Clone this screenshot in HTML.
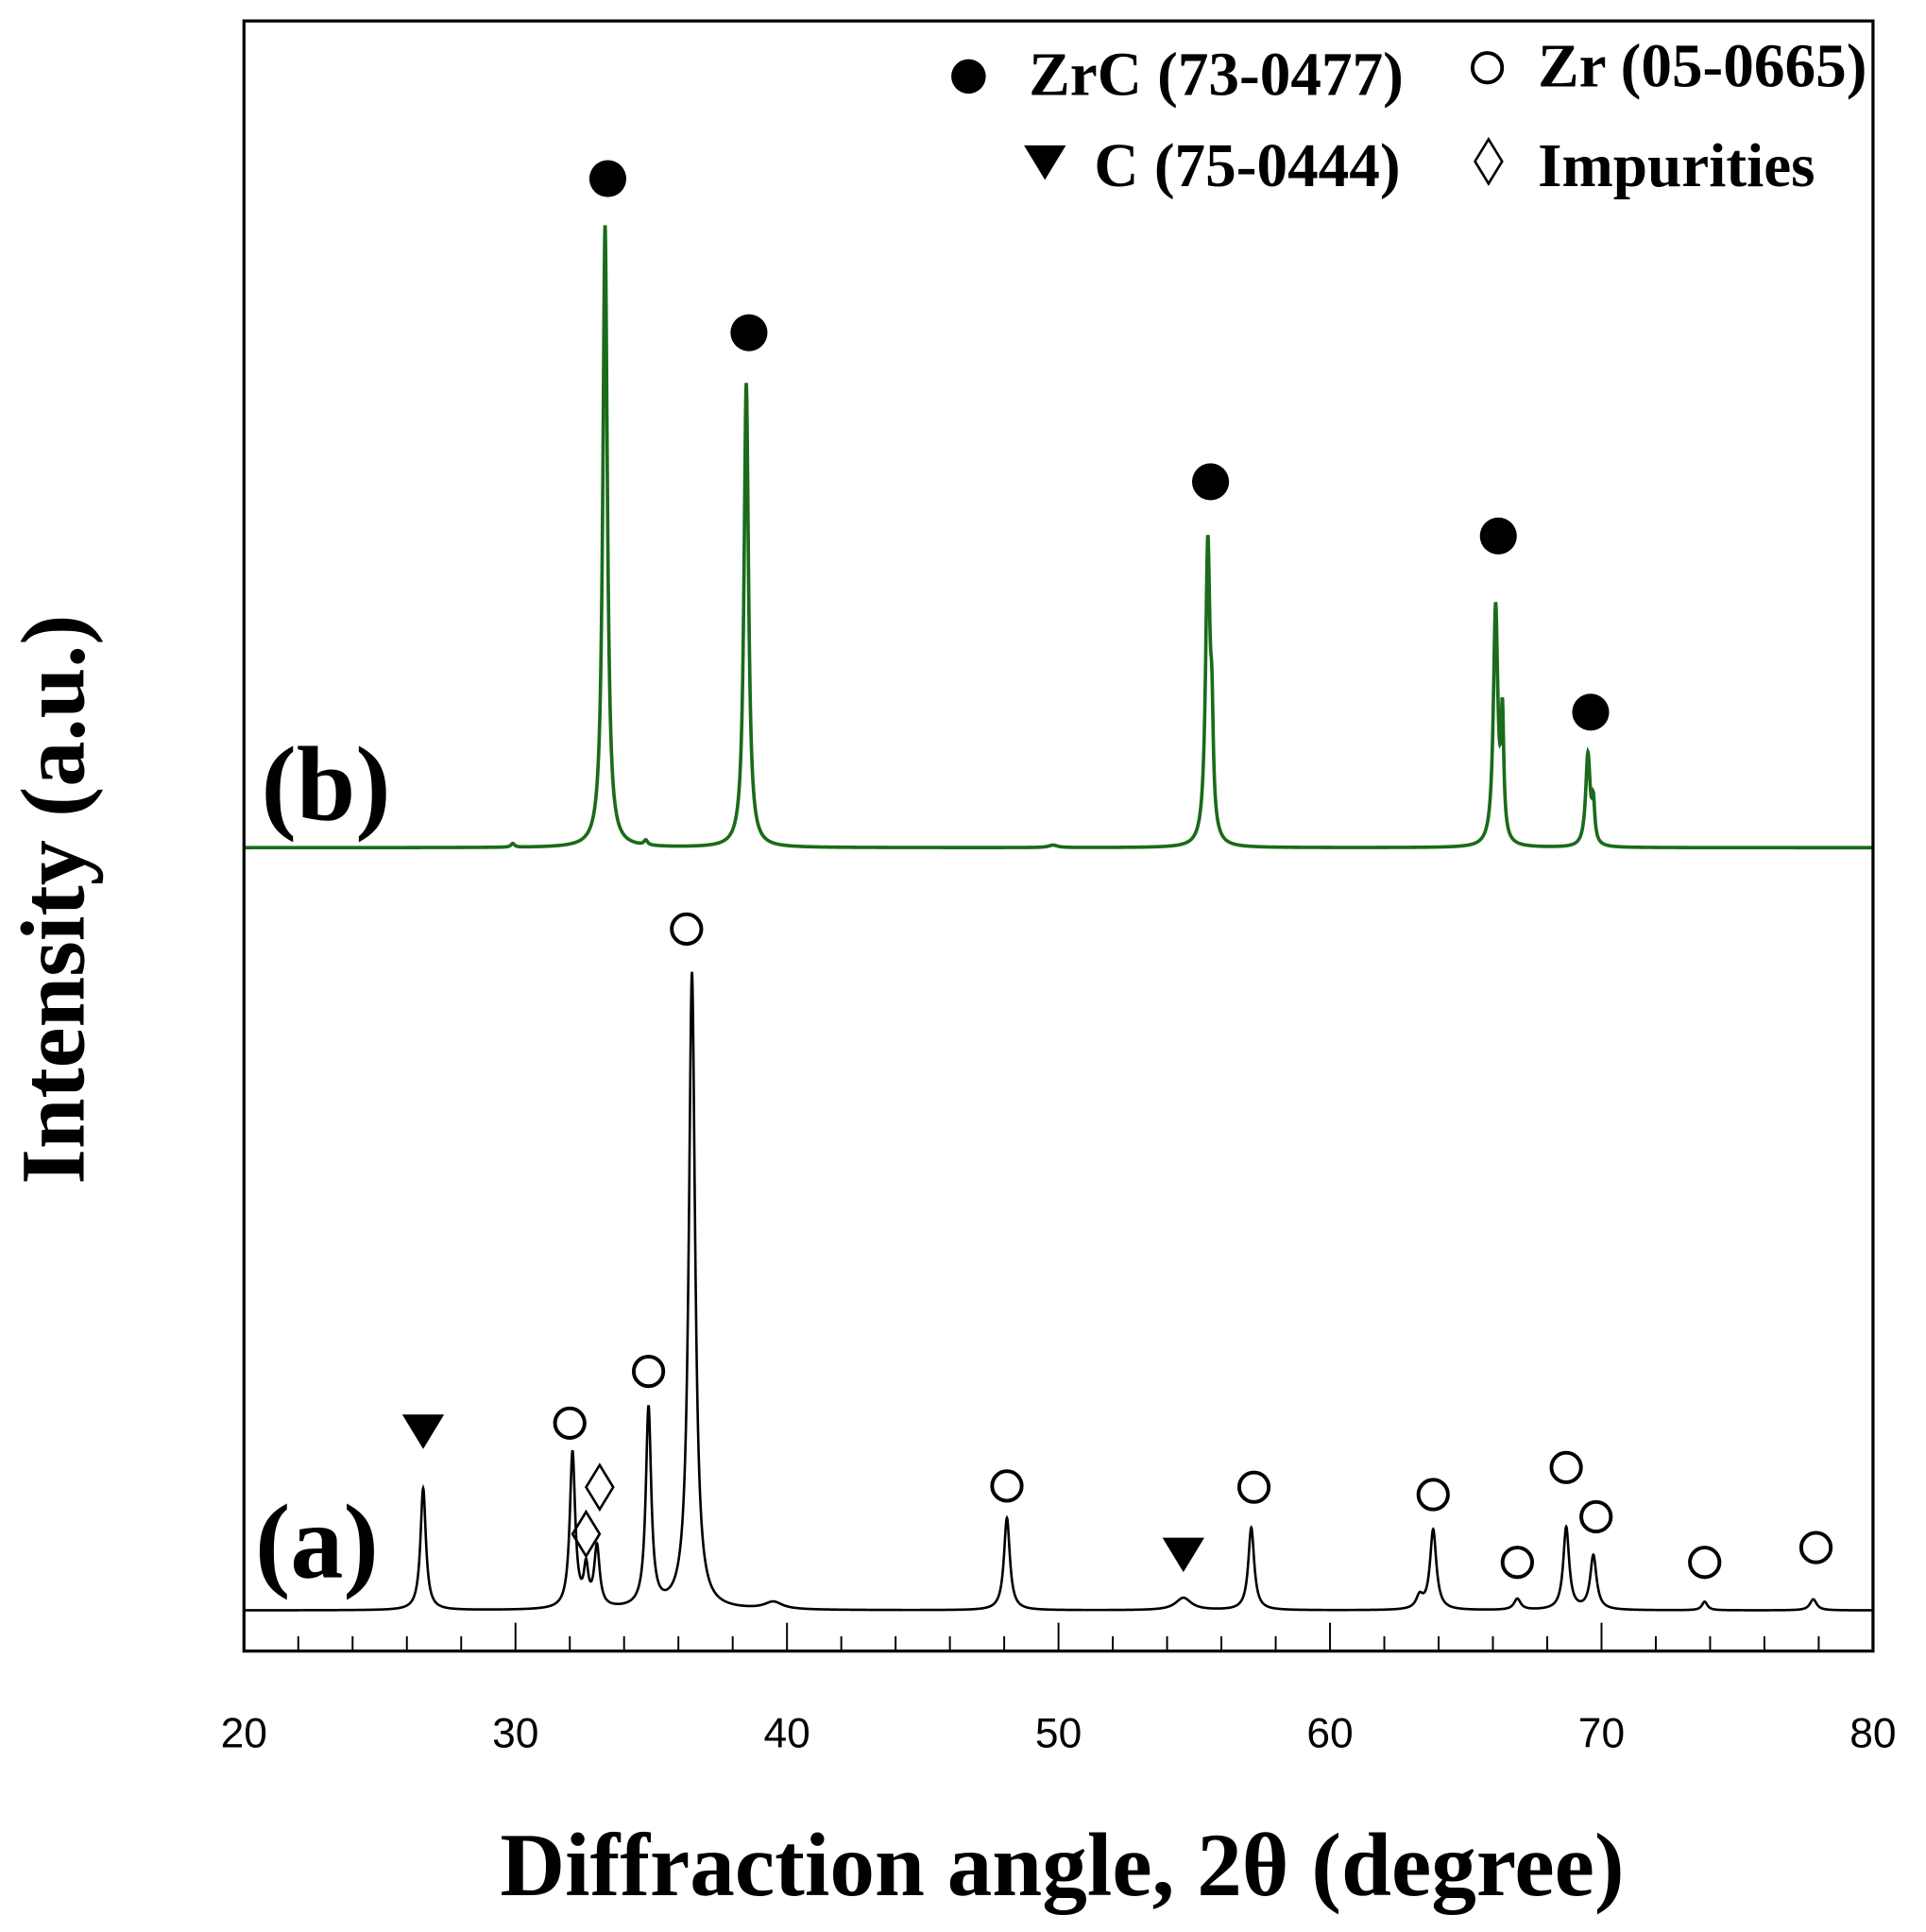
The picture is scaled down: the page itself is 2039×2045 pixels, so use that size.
<!DOCTYPE html>
<html><head><meta charset="utf-8"><style>
html,body{margin:0;padding:0;background:#fff;}
svg{display:block;}
.t{font-family:"Liberation Serif",serif;font-weight:bold;}
.n{font-family:"Liberation Sans",sans-serif;}
</style></head><body>
<svg id="chart" width="2039" height="2045" viewBox="0 0 1563 1568" preserveAspectRatio="none" xmlns="http://www.w3.org/2000/svg">
<rect x="0" y="0" width="1563" height="1568" fill="#fff"/>
<g id="plot"></g>
<rect x="198" y="17" width="1322" height="1323" fill="none" stroke="#000" stroke-width="2.5"/>
<g id="ticks"></g>
<text class="t" x="862" y="1538" font-size="73" text-anchor="middle">Diffraction angle, 2θ (degree)</text>
<text class="t" transform="translate(68,730) rotate(-90)" font-size="74" text-anchor="middle">Intensity (a.u.)</text>
<text class="t" x="212" y="665" font-size="86">(b)</text>
<text class="t" x="207" y="1280" font-size="86">(a)</text>
<g>
<circle cx="786" cy="62" r="14" fill="#000"/>
<text class="t" x="835" y="77" font-size="50">ZrC (73-0477)</text>
<circle cx="1207" cy="55" r="12" fill="none" stroke="#000" stroke-width="3"/>
<text class="t" x="1248" y="70" font-size="50">Zr (05-0665)</text>
<polygon points="831,118 865,118 848,146" fill="#000"/>
<text class="t" x="888" y="151" font-size="50">C (75-0444)</text>
<polygon points="1208,113 1219,131 1208,149 1197,131" fill="none" stroke="#000" stroke-width="2"/>
<text class="t" x="1248" y="151" font-size="50">Impurities</text>
</g>
</svg>
<script>
// data
const xMin = 20, xMax = 80;
const xTickLabels = [20,30,40,50,60,70,80];
const peaksA_pos = [26.6,32.1,32.6,33.0,34.9,36.5,39.5,48.1,54.6,57.1,63.3,63.8,66.9,68.7,69.7,73.8,77.8];
const peaksA_int = [99,127,30,49,162,517,6,75,10,67,10,65,9,67,44,7,9];
const peaksA_wid = [0.12,0.12,0.1,0.12,0.12,0.14,0.4,0.13,0.35,0.13,0.15,0.14,0.15,0.13,0.14,0.12,0.15];
const peaksB_pos = [29.9,33.3,34.8,38.5,49.8,55.5,55.65,66.1,66.35,69.5,69.7];
const peaksB_int = [3,505,4,377,2,244,70,194,95,75,30];
const peaksB_wid = [0.08,0.1,0.08,0.1,0.2,0.1,0.06,0.1,0.06,0.1,0.06];
const markZr_pos = [32.0,34.9,36.3,48.1,57.2,63.8,66.9,68.7,69.8,73.8,77.9];
const markZr_int = [152,194,553,101,100,94,39,116,76,39,51];
const markC_pos = [26.6,54.6];
const markC_int = [145,45];
const markImp_pos = [32.6,33.1];
const markImp_int = [62,100];
const markZrC_pos = [33.4,38.6,55.6,66.2,69.6];
const markZrC_int = [543,418,297,253,110];

const NS = "http://www.w3.org/2000/svg";
const px = v => 198 + (v - xMin) / (xMax - xMin) * 1322;
const baseA = 1307, baseB = 688;
const py = (base, I) => base - I;

function spectrum(pos, int, wid, x){
  let s = 0;
  for (let i=0;i<pos.length;i++){ const d=(x-pos[i])/wid[i]; s += int[i]/(1+d*d); }
  return s;
}
const plot = document.getElementById('plot');
function drawSeries(pos,int,wid,base,color,name){
  let d = "";
  for (let x=xMin; x<=xMax+1e-9; x+=0.01){
    const y = py(base, spectrum(pos,int,wid,x));
    d += (d?"L":"M") + px(x).toFixed(2) + "," + y.toFixed(2);
  }
  const p = document.createElementNS(NS,'path');
  p.setAttribute('d',d); p.setAttribute('fill','none');
  p.setAttribute('stroke',color); p.setAttribute('stroke-width', color==='#000'?'2':'2.8');
  
  
  plot.appendChild(p);
}
drawSeries(peaksB_pos,peaksB_int,peaksB_wid,baseB,'#1a6b1a','series-b-line');
drawSeries(peaksA_pos,peaksA_int,peaksA_wid,baseA,'#000','series-a-line');

function el(tag, attrs){ const e=document.createElementNS(NS,tag); for(const k in attrs) e.setAttribute(k,attrs[k]); plot.appendChild(e); return e; }
markZr_pos.forEach((v,i)=>{
  const e = el('circle',{cx:px(v),cy:py(baseA,markZr_int[i]),r:12,fill:'none',stroke:'#000','stroke-width':3});
  
  
});
markC_pos.forEach((v,i)=>{
  const x=px(v), y=py(baseA,markC_int[i]);
  const e = el('polygon',{points:`${x-17},${y-14} ${x+17},${y-14} ${x},${y+14}`,fill:'#000'});
  
  
});
markImp_pos.forEach((v,i)=>{
  const x=px(v), y=py(baseA,markImp_int[i]);
  const e = el('polygon',{points:`${x},${y-18} ${x+11},${y} ${x},${y+18} ${x-11},${y}`,fill:'none',stroke:'#000','stroke-width':2});
  
  
});
markZrC_pos.forEach((v,i)=>{
  const e = el('circle',{cx:px(v),cy:py(baseB,markZrC_int[i]),r:15,fill:'#000'});
  
  
});

const ticks = document.getElementById('ticks');
for (let v=xMin; v<=xMax; v+=2){
  const major = v%10===0;
  const l = document.createElementNS(NS,'line');
  l.setAttribute('x1',px(v)); l.setAttribute('x2',px(v));
  l.setAttribute('y1',1340); l.setAttribute('y2',1340-(major?23:12));
  l.setAttribute('stroke','#000'); l.setAttribute('stroke-width','1.5');
  
  
  ticks.appendChild(l);
}
xTickLabels.forEach(v=>{
  const t = document.createElementNS(NS,'text');
  t.setAttribute('x',px(v)); t.setAttribute('y',1418);
  t.setAttribute('text-anchor','middle'); t.setAttribute('font-size','34');
  t.setAttribute('class','n'); t.textContent = v;
  
  
  ticks.appendChild(t);
});
</script>
</body></html>
